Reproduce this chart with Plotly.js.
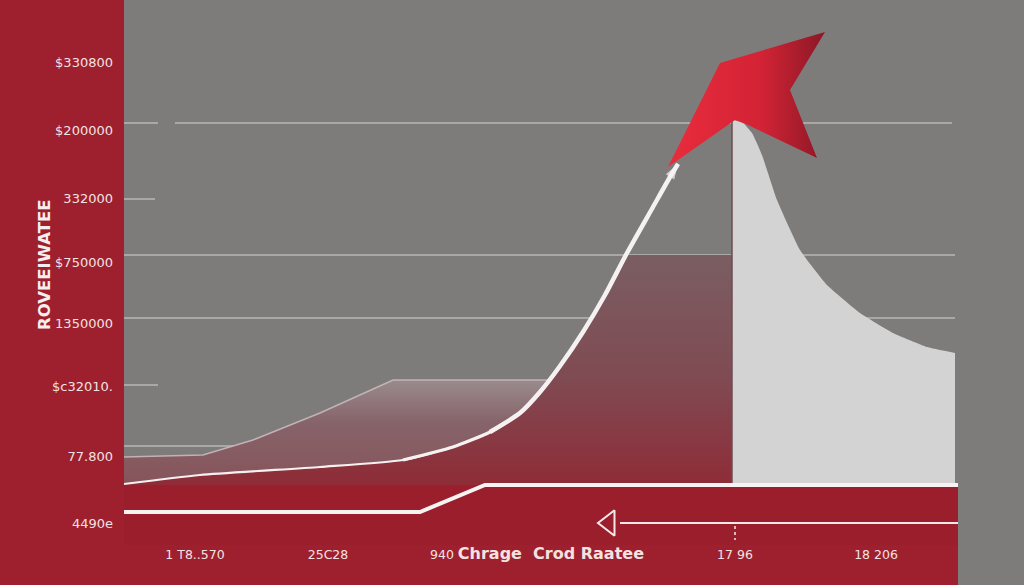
<!DOCTYPE html>
<html>
<head>
<meta charset="utf-8">
<script src="https://cdn.plot.ly/plotly-3.0.1.min.js"></script>
<style>html,body{margin:0;padding:0;background:#9e1f2d;}#chart{width:1024px;height:585px;}</style>
</head>
<body>
<div id="chart"></div>
<script>
// ---- data (chart units) ----
const yTickVals = [423, 355, 287, 223, 162, 99, 29, -38];
const yTickText = ["$330800", "$200000", "332000", "$750000", "1350000", "$c32010.", "77.800", "4490e"];
const xTickVals = [71, 204, 413, 611, 752];
const xTickText = ["1 T8..570", "25C28", "940 <b><span style='font-size:16px'>Chrage  Crod Raatee</span></b>", "17 96", "18 206"];
const yTitle = "ROVEEIWATEE";

// rising white curve
const curveX = [0, 76, 196, 279, 329, 366, 396, 416, 436, 459, 481, 503, 529, 546, 554];
const curveY = [1, 10, 18, 25, 38, 53, 72, 93, 119, 153, 190, 232, 278, 308, 321];
// mauve area under curve, flat top plateau
const mauveX = [0, 76, 196, 279, 329, 366, 396, 416, 436, 459, 481, 503, 608];
const mauveY = [1, 10, 18, 25, 38, 53, 72, 93, 119, 153, 190, 230, 230];
// translucent area behind the curve
const lightX = [0, 79, 129, 196, 269, 436];
const lightY = [28, 30, 45, 72, 105, 105];
// decaying light-grey area
const greyX = [608, 618, 628, 638, 653, 676, 703, 736, 769, 803, 831];
const greyY = [365, 363, 352, 330, 285, 235, 200, 172, 152, 138, 132];
// red arrow shape
const redX = [544, 596, 701, 666, 693, 624, 611, 544];
const redY = [318, 422, 453, 395, 327, 360, 365, 318];
// base white step line
const baseX = [0, 296, 361, 834];
const baseY = [-27, -27, 0, 0];
// back arrow line
const backX = [834, 496];
const backY = [-38, -38];
const backHeadX = [485];
const backHeadY = [-38];
const tickMarkX = [611, 611];
const tickMarkY = [-41, -55];
// grid segments
const gridY  = [362, 362, 286, 230, 167, 100, 39];
const gridX0 = [0, 51, 0, 0, 0, 0, 0];
const gridX1 = [34, 828, 31, 831, 831, 34, 110];

const curveWidths = [2.2, 3.2, 4.5];
const curveStarts = [0, 3, 5];

const traces = [
  {x: lightX, y: lightY, type: 'scatter', mode: 'lines', fill: 'tozeroy',
   fillcolor: '#8a6a6e',
   fillgradient: {type: 'vertical', colorscale: [[0, '#86545a'], [0.6, '#86646a'], [1, '#9a8b8d']]},
   line: {color: 'rgba(200,185,188,0.9)', width: 1.5}, hoverinfo: 'skip'},
  {x: mauveX, y: mauveY, type: 'scatter', mode: 'lines', fill: 'tozeroy',
   fillcolor: '#7b5a5f',
   fillgradient: {type: 'vertical', colorscale: [[0, '#8e2c37'], [0.45, '#804a52'], [1, '#7a5e62']]},
   line: {width: 0}, hoverinfo: 'skip'},
  {x: greyX, y: greyY, type: 'scatter', mode: 'lines', fill: 'tozeroy',
   fillcolor: '#d3d3d3', line: {width: 0, shape: 'spline', smoothing: 0.4}, hoverinfo: 'skip'},
  {x: [greyX[0], greyX[0]], y: [0, greyY[0]], type: 'scatter', mode: 'lines',
   line: {color: '#6c4d52', width: 1.5}, hoverinfo: 'skip'}
];
curveStarts.forEach((s, k) => {
  const last = k === curveStarts.length - 1;
  const xs = curveX.slice(s), ys = curveY.slice(s);
  const tr = {x: xs, y: ys, type: 'scatter', mode: 'lines',
    line: {color: '#f5f1f1', width: curveWidths[k], shape: 'spline', smoothing: 0.6},
    hoverinfo: 'skip'};
  if (last) {
    tr.mode = 'lines+markers';
    tr.marker = {symbol: 'arrow', angleref: 'previous', color: '#f6f4f4',
                 size: xs.map((v, i) => i === xs.length - 1 ? 16 : 0), line: {width: 0}};
  }
  traces.push(tr);
});
traces.push(
  {x: redX, y: redY, type: 'scatter', mode: 'lines', fill: 'toself',
   fillcolor: '#cf2233',
   fillgradient: {type: 'horizontal', colorscale: [[0, '#e92c3c'], [0.6, '#d22335'], [1, '#8a1826']]},
   line: {width: 0}, hoverinfo: 'skip'},
  {x: baseX, y: baseY, type: 'scatter', mode: 'lines',
   line: {color: '#f7f3f3', width: 4}, hoverinfo: 'skip'},
  {x: backX, y: backY, type: 'scatter', mode: 'lines',
   line: {color: '#f3e9ea', width: 2}, hoverinfo: 'skip'},
  {x: backHeadX, y: backHeadY, type: 'scatter', mode: 'markers',
   marker: {symbol: 'triangle-left-open', size: 22, color: '#f3e9ea', line: {width: 2, color: '#f3e9ea'}},
   hoverinfo: 'skip'},
  {x: tickMarkX, y: tickMarkY, type: 'scatter', mode: 'lines',
   line: {color: '#f3e9ea', width: 1.5, dash: 'dot'}, hoverinfo: 'skip'}
);

const shapes = [
  {type: 'rect', xref: 'x', yref: 'y', x0: 0, x1: 834, y0: -60, y1: 0, layer: 'below',
   fillcolor: '#9a1e2c', line: {width: 0}},
  {type: 'rect', xref: 'paper', yref: 'paper', x0: 834 / 900, x1: 1, y0: -40 / 545, y1: 0, layer: 'below',
   fillcolor: '#7e7c7b', line: {width: 0}}
];
gridY.forEach((g, i) => shapes.push({type: 'line', xref: 'x', yref: 'y', x0: gridX0[i], x1: gridX1[i], y0: g, y1: g,
  layer: 'below', line: {color: '#b9b7b6', width: 1.5}}));

const layout = {
  width: 1024, height: 585,
  margin: {l: 124, r: 0, t: 0, b: 40},
  paper_bgcolor: '#9e1f2d',
  plot_bgcolor: '#7e7c7b',
  showlegend: false,
  font: {family: 'DejaVu Sans, Arial, sans-serif', color: '#f2e2e2'},
  xaxis: {range: [0, 900], showgrid: false, zeroline: false, showline: false, ticks: '',
          tickmode: 'array', tickvals: xTickVals, ticktext: xTickText,
          tickfont: {size: 12.5, color: '#f2e2e2'}, fixedrange: true},
  yaxis: {range: [-60, 485], showgrid: false, zeroline: false, showline: false, ticks: '',
          tickmode: 'array', tickvals: yTickVals, ticktext: yTickText,
          ticklabelstandoff: 10,
          tickfont: {size: 13, color: '#f2e2e2'}, fixedrange: true},
  shapes: shapes,
  annotations: [
    {text: '<b>' + yTitle + '</b>', xref: 'paper', yref: 'paper', x: -80 / 900, y: 280 / 545,
     textangle: -90, showarrow: false, font: {family: 'DejaVu Sans, sans-serif', size: 16.5, color: '#f6eeee'},
     xanchor: 'center', yanchor: 'middle'}
  ]
};

Plotly.newPlot('chart', traces, layout, {displayModeBar: false, staticPlot: true});
</script>
</body>
</html>
